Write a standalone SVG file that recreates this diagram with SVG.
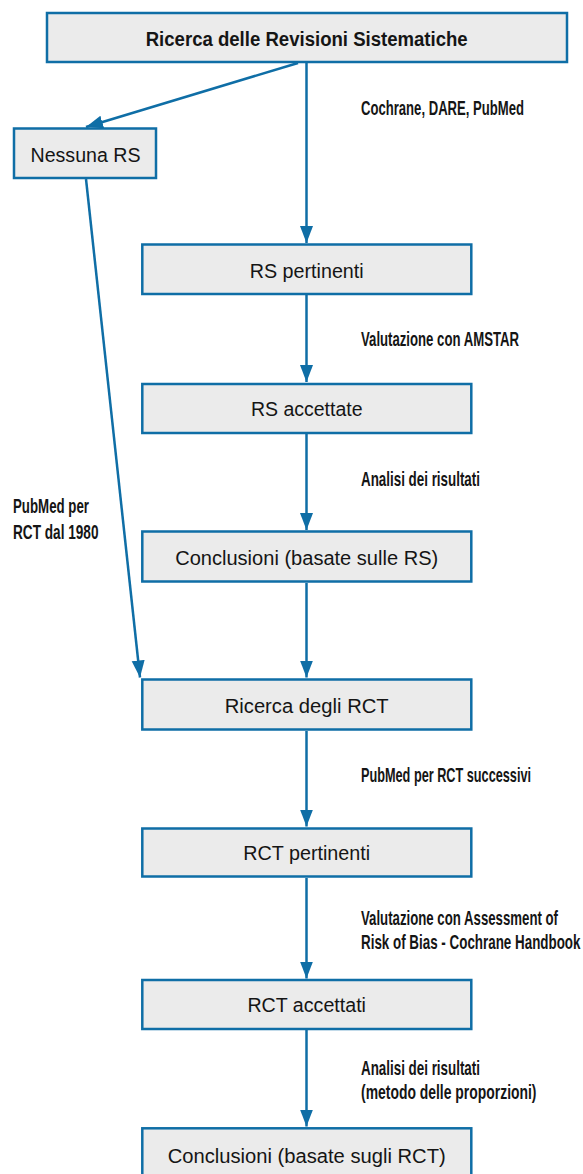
<svg xmlns="http://www.w3.org/2000/svg" width="583" height="1174" viewBox="0 0 583 1174">
  <style>
    .box { fill: #ebebeb; stroke: #0f6ea6; stroke-width: 2.5; }
    .t { font-family: "Liberation Sans", Arial, sans-serif; font-size: 19.5px; fill: #151515; text-anchor: middle; }
    .tb { font-family: "Liberation Sans", Arial, sans-serif; font-size: 20px; font-weight: bold; fill: #151515; text-anchor: middle; }
    .lbl { font-family: "Liberation Sans Narrow", "Liberation Sans", Arial, sans-serif; font-size: 20.5px; font-weight: bold; fill: #151515; }
    .conn { stroke: #0f6ea6; stroke-width: 2.5; fill: none; marker-end: url(#ah); }
  </style>
  <defs>
    <marker id="ah" markerUnits="userSpaceOnUse" markerWidth="18" markerHeight="14" refX="17" refY="6.5" orient="auto">
      <path d="M0,0 L17,6.5 L0,13 z" fill="#0f6ea6"/>
    </marker>
  </defs>
  <rect width="583" height="1174" fill="#ffffff"/>

  <g id="connectors">
    <line class="conn" x1="298" y1="63" x2="86" y2="127"/>
    <line class="conn" x1="306.5" y1="63" x2="306.5" y2="243"/>
    <line class="conn" x1="306.5" y1="295" x2="306.5" y2="382"/>
    <line class="conn" x1="306.5" y1="434" x2="306.5" y2="530"/>
    <line class="conn" x1="306.5" y1="583" x2="306.5" y2="677.5"/>
    <line class="conn" x1="86" y1="179" x2="140" y2="677.5"/>
    <line class="conn" x1="306.5" y1="731" x2="306.5" y2="826.5"/>
    <line class="conn" x1="306.5" y1="878" x2="306.5" y2="978.5"/>
    <line class="conn" x1="306.5" y1="1030" x2="306.5" y2="1126.5"/>
  </g>

  <g id="labels">
    <text class="lbl" x="361" y="115" textLength="163" lengthAdjust="spacingAndGlyphs">Cochrane, DARE, PubMed</text>
    <text class="lbl" x="361" y="346" textLength="158" lengthAdjust="spacingAndGlyphs">Valutazione con AMSTAR</text>
    <text class="lbl" x="361" y="486" textLength="119" lengthAdjust="spacingAndGlyphs">Analisi dei risultati</text>
    <text class="lbl" x="13" y="513" textLength="76" lengthAdjust="spacingAndGlyphs">PubMed per</text>
    <text class="lbl" x="13" y="538.5" textLength="85.5" lengthAdjust="spacingAndGlyphs">RCT dal 1980</text>
    <text class="lbl" x="361" y="782" textLength="170" lengthAdjust="spacingAndGlyphs">PubMed per RCT successivi</text>
    <text class="lbl" x="361" y="925" textLength="197" lengthAdjust="spacingAndGlyphs">Valutazione con Assessment of</text>
    <text class="lbl" x="361" y="948.5" textLength="219.5" lengthAdjust="spacingAndGlyphs">Risk of Bias - Cochrane Handbook</text>
    <text class="lbl" x="361" y="1075" textLength="119" lengthAdjust="spacingAndGlyphs">Analisi dei risultati</text>
    <text class="lbl" x="361" y="1098.5" textLength="175.5" lengthAdjust="spacingAndGlyphs">(metodo delle proporzioni)</text>
  </g>

  <g id="n-ricerca-rs">
    <rect class="box" x="47" y="13" width="520" height="49"/>
    <text class="tb" x="306.7" y="45.7" textLength="322" lengthAdjust="spacingAndGlyphs">Ricerca delle Revisioni Sistematiche</text>
  </g>
  <g id="n-nessuna-rs">
    <rect class="box" x="14" y="128.5" width="142" height="49.5"/>
    <text class="t" x="85.5" y="162" textLength="110" lengthAdjust="spacingAndGlyphs">Nessuna RS</text>
  </g>
  <g id="n-rs-pertinenti">
    <rect class="box" x="142.3" y="244.5" width="329" height="49.5"/>
    <text class="t" x="306.7" y="278.3" textLength="114" lengthAdjust="spacingAndGlyphs">RS pertinenti</text>
  </g>
  <g id="n-rs-accettate">
    <rect class="box" x="142.3" y="384" width="329" height="49"/>
    <text class="t" x="306.7" y="416" textLength="111.6" lengthAdjust="spacingAndGlyphs">RS accettate</text>
  </g>
  <g id="n-conclusioni-rs">
    <rect class="box" x="142.3" y="531.5" width="329" height="50"/>
    <text class="t" x="306.7" y="565" textLength="263" lengthAdjust="spacingAndGlyphs">Conclusioni (basate sulle RS)</text>
  </g>
  <g id="n-ricerca-rct">
    <rect class="box" x="142.3" y="679.5" width="329" height="50"/>
    <text class="t" x="306.7" y="712.7" textLength="164" lengthAdjust="spacingAndGlyphs">Ricerca degli RCT</text>
  </g>
  <g id="n-rct-pertinenti">
    <rect class="box" x="142.3" y="828.5" width="329" height="48"/>
    <text class="t" x="306.7" y="860" textLength="127" lengthAdjust="spacingAndGlyphs">RCT pertinenti</text>
  </g>
  <g id="n-rct-accettati">
    <rect class="box" x="142.3" y="980" width="329" height="49"/>
    <text class="t" x="306.7" y="1012.3" textLength="118.6" lengthAdjust="spacingAndGlyphs">RCT accettati</text>
  </g>
  <g id="n-conclusioni-rct">
    <rect class="box" x="142.3" y="1128.3" width="329" height="50"/>
    <text class="t" x="306.7" y="1163.3" textLength="278" lengthAdjust="spacingAndGlyphs">Conclusioni (basate sugli RCT)</text>
  </g>
</svg>
